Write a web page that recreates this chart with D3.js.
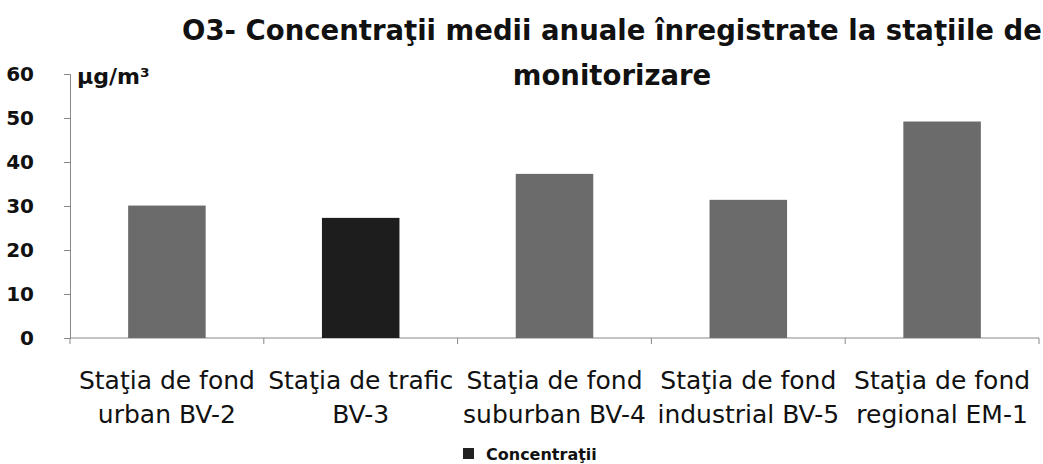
<!DOCTYPE html>
<html>
<head>
<meta charset="utf-8">
<script src="https://cdn.jsdelivr.net/npm/d3@7"></script>
<style>
  body { margin: 0; background: #fff; }
  text { font-family: "DejaVu Sans", sans-serif; }
</style>
</head>
<body>
<div id="chart"></div>
<script>
var categories = [
  ["Staţia de fond", "urban BV-2"],
  ["Staţia de trafic", "BV-3"],
  ["Staţia de fond", "suburban BV-4"],
  ["Staţia de fond", "industrial BV-5"],
  ["Staţia de fond", "regional EM-1"]
];
var values = [30.1, 27.3, 37.3, 31.4, 49.2];
var barColors = ["#6b6b6b", "#1d1d1d", "#6b6b6b", "#6b6b6b", "#6b6b6b"];
var yTicks = [0, 10, 20, 30, 40, 50, 60];
var titleLines = ["O3- Concentraţii medii anuale înregistrate la staţiile de", "monitorizare"];
var unitLabel = "µg/m³";
var legendLabel = "Concentraţii";

var width = 1043, height = 464;
var margin = {top: 74, right: 4, bottom: 126, left: 70};

var svg = d3.select("#chart").append("svg")
  .attr("width", width)
  .attr("height", height);

var x = d3.scaleBand()
  .domain(d3.range(categories.length))
  .range([margin.left, width - margin.right])
  .paddingInner(0.6)
  .paddingOuter(0.3);

var y = d3.scaleLinear()
  .domain([0, 60])
  .range([height - margin.bottom, margin.top]);

// y axis
var yAxis = svg.append("g")
  .attr("transform", "translate(" + margin.left + ",0)")
  .call(d3.axisLeft(y).tickValues(yTicks).tickSize(6).tickPadding(30));
yAxis.select(".domain").attr("stroke", "#888");
yAxis.selectAll(".tick line").attr("stroke", "#888");
yAxis.selectAll(".tick text")
  .attr("fill", "#111")
  .style("font-size", "20px")
  .style("font-weight", "bold");

// x axis line with ticks on band edges
var x0 = margin.left, x1 = width - margin.right;
svg.append("line")
  .attr("x1", x0).attr("x2", x1)
  .attr("y1", y(0)).attr("y2", y(0))
  .attr("stroke", "#888");
svg.selectAll(".xtick")
  .data(d3.range(categories.length + 1))
  .enter().append("line")
  .attr("class", "xtick")
  .attr("x1", function(d) { return x0 + d * (x1 - x0) / categories.length; })
  .attr("x2", function(d) { return x0 + d * (x1 - x0) / categories.length; })
  .attr("y1", y(0)).attr("y2", y(0) + 6)
  .attr("stroke", "#888");

// bars
svg.selectAll(".bar")
  .data(values)
  .enter().append("rect")
  .attr("class", "bar")
  .attr("x", function(d, i) { return x(i); })
  .attr("y", function(d) { return y(d); })
  .attr("width", x.bandwidth())
  .attr("height", function(d) { return y(0) - y(d); })
  .attr("fill", function(d, i) { return barColors[i]; });

// category labels
var labels = svg.selectAll(".cat")
  .data(categories)
  .enter().append("text")
  .attr("class", "cat")
  .attr("text-anchor", "middle")
  .attr("fill", "#111")
  .style("font-size", "25px");
labels.selectAll("tspan")
  .data(function(d, i) { return d.map(function(s) { return {s: s, i: i}; }); })
  .enter().append("tspan")
  .attr("x", function(d) { return x(d.i) + x.bandwidth() / 2; })
  .attr("y", function(d, j) { return 389 + j * 34; })
  .text(function(d) { return d.s; });

// title
svg.selectAll(".title")
  .data(titleLines)
  .enter().append("text")
  .attr("class", "title")
  .attr("x", 612)
  .attr("y", function(d, i) { return 40 + i * 45; })
  .attr("text-anchor", "middle")
  .attr("fill", "#111")
  .style("font-size", "27.5px")
  .style("font-weight", "bold")
  .text(function(d) { return d; });

// unit
svg.append("text")
  .attr("x", 77).attr("y", 84)
  .attr("fill", "#111")
  .style("font-size", "22px")
  .style("font-weight", "bold")
  .text(unitLabel);

// legend
svg.append("rect")
  .attr("x", 463).attr("y", 448)
  .attr("width", 11).attr("height", 11)
  .attr("fill", "#222");
svg.append("text")
  .attr("x", 486).attr("y", 460)
  .attr("fill", "#111")
  .style("font-size", "16px")
  .style("font-weight", "bold")
  .text(legendLabel);
</script>
</body>
</html>
